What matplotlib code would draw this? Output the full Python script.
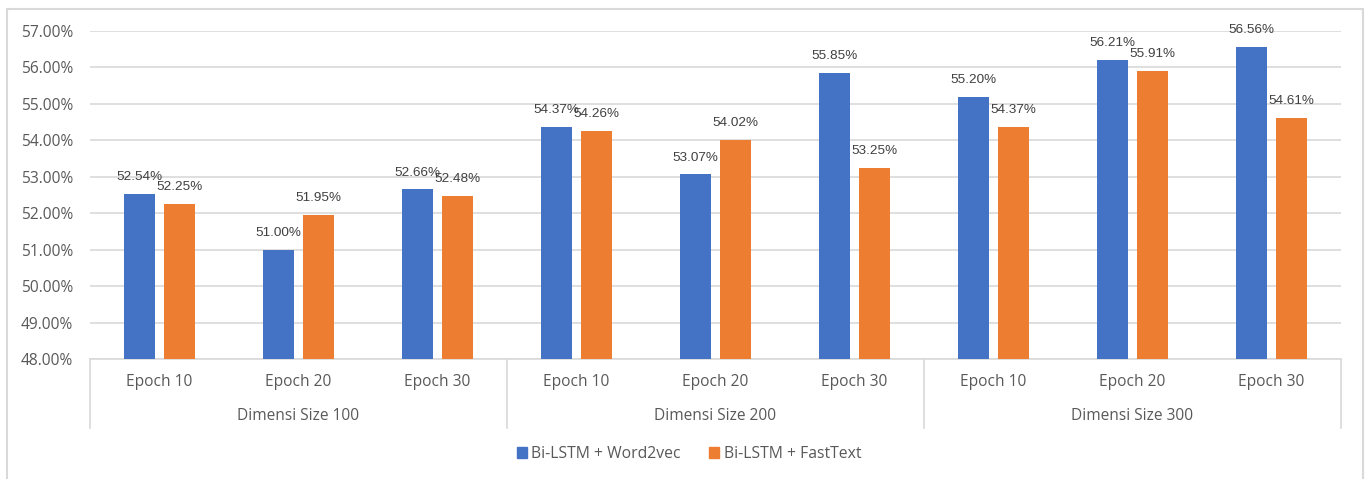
import numpy as np
import matplotlib.pyplot as plt
from matplotlib.patches import Rectangle
from matplotlib.ticker import FuncFormatter
from matplotlib.transforms import blended_transform_factory

# Accuracy (%) per dimension size and epoch
epochs = ["Epoch 10", "Epoch 20", "Epoch 30"]
dims = ["Dimensi Size 100", "Dimensi Size 200", "Dimensi Size 300"]
word2vec = [52.54, 51.00, 52.66, 54.37, 53.07, 55.85, 55.20, 56.21, 56.56]
fasttext = [52.25, 51.95, 52.48, 54.26, 54.02, 53.25, 54.37, 55.91, 54.61]
series_names = ["Bi-LSTM + Word2vec", "Bi-LSTM + FastText"]

BLUE = "#4472C4"
ORANGE = "#ED7D31"
GRID = "#d9d9d9"
TEXT = "#595959"
TICK_FONT = ["Open Sans", "DejaVu Sans"]

fig = plt.figure(figsize=(13.65, 4.79), dpi=100)
ax = fig.add_axes([90 / 1365, 120 / 479, 1251 / 1365, 328 / 479])

x = np.arange(len(word2vec))
w = 0.225
off = 0.144
b1 = ax.bar(x - off, word2vec, w, color=BLUE, zorder=3)
b2 = ax.bar(x + off, fasttext, w, color=ORANGE, zorder=3)

# value labels above each bar
for bars, vals in ((b1, word2vec), (b2, fasttext)):
    for bar, v in zip(bars, vals):
        ax.annotate(f"{v:.2f}%", (bar.get_x() + bar.get_width() / 2, v),
                    xytext=(0, 12), textcoords="offset points",
                    ha="center", va="center", fontsize=9.7,
                    family="Liberation Sans", color="#404040", zorder=4)

ax.set_xlim(-0.5, len(x) - 0.5)
ax.set_ylim(48, 57)
ax.set_yticks(np.arange(48, 57.1, 1))
ax.yaxis.set_major_formatter(FuncFormatter(lambda v, _: f"{v:.2f}%"))
ax.tick_params(axis="y", length=0, pad=12, labelsize=11.2, labelcolor=TEXT)
for lbl in ax.get_yticklabels():
    lbl.set_family(TICK_FONT)
ax.set_xticks([])
ax.grid(axis="y", color=GRID, lw=1.2, zorder=0)
for s in ["top", "right", "left"]:
    ax.spines[s].set_visible(False)
ax.spines["bottom"].set_color(GRID)
ax.spines["bottom"].set_linewidth(1.2)

# two-level category axis
trans = blended_transform_factory(ax.transData, ax.transAxes)
for i in range(len(x)):
    ax.text(i, -0.07, epochs[i % 3], transform=trans, ha="center", va="center",
            fontsize=11.2, color=TEXT, family=TICK_FONT)
for g, name in enumerate(dims):
    ax.text(g * 3 + 1, -0.174, name, transform=trans, ha="center", va="center",
            fontsize=11.2, color=TEXT, family=TICK_FONT)
for sep in [-0.5, 2.5, 5.5, 8.5]:
    ax.plot([sep, sep], [0, -0.21], transform=trans, color=GRID, lw=1.2,
            clip_on=False)

handles = [Rectangle((0, 0), 1, 1, color=BLUE), Rectangle((0, 0), 1, 1, color=ORANGE)]
fig.legend(handles, series_names, loc="center", bbox_to_anchor=(0.5048, 0.052),
           ncol=2, frameon=False, handlelength=0.65, handleheight=0.65,
           handletextpad=0.3, columnspacing=1.8,
           prop={"family": TICK_FONT, "size": 11.3}, labelcolor=TEXT)

# chart border
fig.patches.append(Rectangle((7 / 1365, -0.05), 1356 / 1365, 1.05 - 9 / 479,
                             transform=fig.transFigure, fill=False,
                             edgecolor=GRID, lw=1.5))

fig.savefig("out.png", dpi=100)
